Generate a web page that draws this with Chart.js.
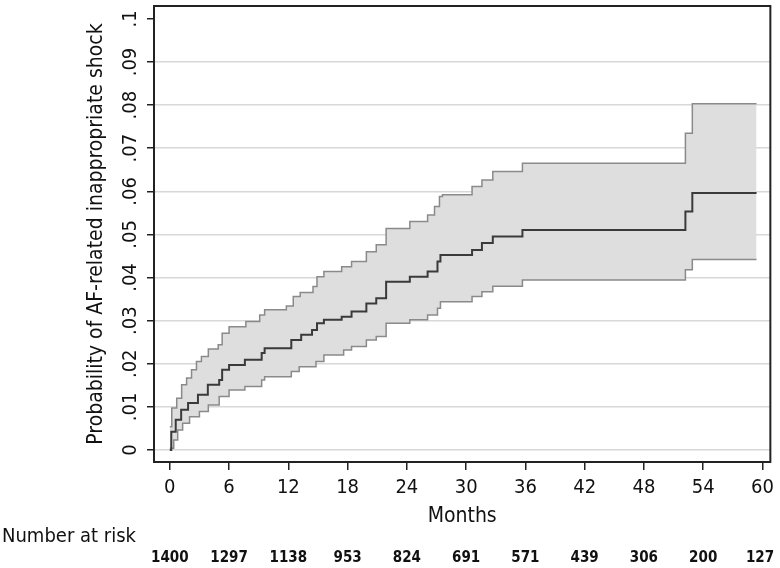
<!DOCTYPE html>
<html>
<head>
<meta charset="utf-8">
<script src="https://cdn.jsdelivr.net/npm/chart.js@4/dist/chart.umd.min.js"></script>
<style>
  html, body { margin: 0; padding: 0; background: #fff; }
  #wrap { width: 780px; height: 568px; }
</style>
</head>
<body>
<div id="wrap"><canvas id="km"></canvas></div>
<script>
// cumulative incidence (step points: month, value after the step)
const estTimes = [0, 0.15, 0.6, 1.15, 1.85, 2.85, 3.85, 5.0, 5.3, 6.0, 7.6, 9.3, 9.6, 12.3, 13.3, 14.4, 14.9, 15.6, 17.4, 18.4, 19.9, 20.9, 21.9, 24.3, 26.1, 27.1, 27.4, 30.6, 31.6, 32.7, 35.7, 52.2, 52.9, 59.4];
const estValues = [0, 0.0042, 0.007, 0.0093, 0.0109, 0.0128, 0.0151, 0.0162, 0.0186, 0.0197, 0.0209, 0.0225, 0.0236, 0.0255, 0.0267, 0.0278, 0.0294, 0.0302, 0.0309, 0.0321, 0.034, 0.0352, 0.039, 0.0402, 0.0414, 0.0437, 0.0452, 0.0464, 0.048, 0.0495, 0.051, 0.0553, 0.0596, 0.0596];

const upperTimes = [0, 0.2, 0.7, 1.2, 1.7, 2.2, 2.7, 3.2, 3.9, 4.9, 5.3, 6.0, 7.7, 9.1, 9.6, 11.8, 12.5, 13.2, 14.5, 14.9, 15.6, 17.4, 18.4, 19.9, 20.9, 21.9, 24.3, 26.1, 26.8, 27.3, 27.6, 30.6, 31.6, 32.7, 35.7, 52.2, 52.9, 59.4];
const upperValues = [0.0054, 0.0097, 0.012, 0.0151, 0.0167, 0.0186, 0.0205, 0.0217, 0.0234, 0.0244, 0.0271, 0.0286, 0.0298, 0.0313, 0.0325, 0.0334, 0.0356, 0.0365, 0.0379, 0.0402, 0.0414, 0.0425, 0.0437, 0.046, 0.0476, 0.0514, 0.053, 0.0545, 0.0565, 0.0588, 0.0592, 0.0611, 0.0626, 0.0646, 0.0665, 0.0735, 0.0803, 0.0803];

const lowerTimes = [0, 0.4, 0.8, 1.3, 2.0, 3.0, 3.9, 5.0, 6.0, 7.6, 9.3, 9.6, 12.3, 13.1, 14.8, 15.6, 17.6, 18.4, 19.9, 20.9, 21.9, 24.3, 26.1, 27.1, 27.4, 30.6, 31.6, 32.7, 35.7, 52.2, 52.9, 59.4];
const lowerValues = [0.0004, 0.0023, 0.0046, 0.0062, 0.0077, 0.0089, 0.0104, 0.0124, 0.0139, 0.0147, 0.0162, 0.017, 0.0182, 0.0193, 0.0205, 0.022, 0.0232, 0.024, 0.0255, 0.0263, 0.0294, 0.0302, 0.0313, 0.0329, 0.0344, 0.0356, 0.0367, 0.038, 0.0394, 0.0418, 0.0442, 0.0442];

const monthTicks = [0, 6, 12, 18, 24, 30, 36, 42, 48, 54, 60];
const riskCounts = [1400, 1297, 1138, 953, 824, 691, 571, 439, 306, 200, 127];
const yTicks = [0, 0.01, 0.02, 0.03, 0.04, 0.05, 0.06, 0.07, 0.08, 0.09, 0.1];
const yTickLabels = ['0', '.01', '.02', '.03', '.04', '.05', '.06', '.07', '.08', '.09', '.1'];

const FONT = "'Liberation Sans Narrow', 'DejaVu Sans Condensed', Arial, sans-serif";
const toXY = (ts, vs) => ts.map((t, i) => ({ x: t, y: vs[i] }));

// frame, rotated y labels and the number-at-risk table
const extras = {
  id: 'extras',
  afterDraw(chart) {
    const { ctx, chartArea: a, scales } = chart;
    ctx.save();
    ctx.strokeStyle = '#222';
    ctx.lineWidth = 2;
    ctx.strokeRect(a.left, a.top, a.right - a.left, a.bottom - a.top);

    ctx.fillStyle = '#111';
    ctx.font = '20px ' + FONT;
    ctx.textAlign = 'center';
    ctx.textBaseline = 'middle';
    yTicks.forEach((v, i) => {
      const py = scales.y.getPixelForValue(v);
      ctx.save();
      ctx.translate(131, py);
      ctx.rotate(-Math.PI / 2);
      ctx.fillText(yTickLabels[i], 0, 0);
      ctx.restore();
    });

    ctx.font = '20px ' + FONT;
    ctx.textAlign = 'left';
    ctx.fillText('Number at risk', 2, 537);

    ctx.font = 'bold 15px ' + FONT;
    ctx.textAlign = 'center';
    monthTicks.forEach((m, i) => {
      const px = Math.min(scales.x.getPixelForValue(m), 760);
      ctx.fillText(String(riskCounts[i]), px, 558);
    });
    ctx.restore();
  }
};

new Chart(document.getElementById('km'), {
  type: 'line',
  data: {
    datasets: [
      {
        label: 'Estimate',
        data: toXY(estTimes, estValues),
        stepped: true,
        borderColor: '#3a3a3a',
        borderWidth: 2,
        pointRadius: 0,
        fill: false,
      },
      {
        label: 'Upper',
        data: toXY(upperTimes, upperValues),
        stepped: true,
        borderColor: '#8a8a8a',
        borderWidth: 1.5,
        pointRadius: 0,
        backgroundColor: '#dedede',
        fill: '+1',
      },
      {
        label: 'Lower',
        data: toXY(lowerTimes, lowerValues),
        stepped: true,
        borderColor: '#8a8a8a',
        borderWidth: 1.5,
        pointRadius: 0,
        fill: false,
      },
    ],
  },
  options: {
    responsive: true,
    maintainAspectRatio: false,
    animation: false,
    layout: { padding: { left: 0, top: 6, right: 8, bottom: 0 } },
    plugins: {
      legend: { display: false },
      tooltip: { enabled: false },
      filler: { drawTime: 'beforeDatasetsDraw' },
    },
    scales: {
      x: {
        type: 'linear',
        min: -1.6,
        max: 60.8,
        afterBuildTicks: s => { s.ticks = monthTicks.map(v => ({ value: v })); },
        afterFit: s => { s.height = 106; },
        border: { display: false },
        grid: { drawOnChartArea: false, tickLength: 8, color: '#222', lineWidth: 1.5 },
        ticks: { font: { family: FONT, size: 20 }, color: '#111', padding: 6, maxRotation: 0, autoSkip: false },
        title: { display: true, text: 'Months', color: '#111', font: { family: FONT, size: 21 }, padding: { top: 0, bottom: 39 } },
      },
      y: {
        type: 'linear',
        min: -0.0028,
        max: 0.103,
        afterBuildTicks: s => { s.ticks = yTicks.map(v => ({ value: v })); },
        afterFit: s => { s.width = 154; },
        border: { display: false },
        grid: {
          color: c => (c.tick && c.tick.value >= 0.1 ? 'rgba(0,0,0,0)' : '#d8d8d8'),
          lineWidth: 1.5,
          tickColor: '#222',
          tickLength: 7,
        },
        ticks: { display: false },
        title: { display: true, text: 'Probability of AF-related inappropriate shock', color: '#111', font: { family: FONT, size: 21 }, padding: { top: 84, bottom: 0 } },
      },
    },
  },
  plugins: [extras],
});
</script>
</body>
</html>
